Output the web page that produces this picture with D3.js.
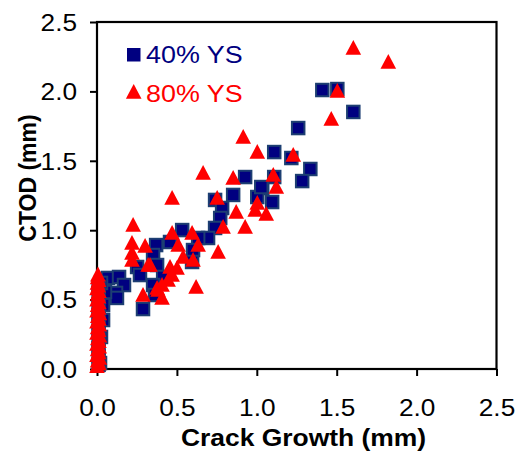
<!DOCTYPE html>
<html>
<head>
<meta charset="utf-8">
<script src="https://cdn.jsdelivr.net/npm/d3@7"></script>
<style>
  html, body { margin: 0; padding: 0; background: #fff; }
  svg { display: block; }
</style>
</head>
<body>
<svg id="chart" width="524" height="452"></svg>
<script>
// ---- Data ----
const xTicks = [0, 0.5, 1.0, 1.5, 2.0, 2.5];
const yTicks = [0, 0.5, 1.0, 1.5, 2.0, 2.5];
const seriesNames = ["40% YS", "80% YS"];

// 40% YS (squares): crack growth (mm)
const ys40X = [1.604, 1.41, 1.504, 1.259, 1.335, 1.284, 1.216, 1.109, 0.927, 1.109,
  1.034, 0.852, 1.003, 1.096, 0.739, 0.783, 0.771, 0.739, 0.695, 0.633,
  0.533, 0.37, 0.457, 0.601, 0.595, 0.351, 0.376, 0.414, 0.351, 0.363,
  0.251, 0.269, 0.069, 0.138, 0.169, 0.119, 0.125, 0.288, 0.038, 0.038,
  0.05, 0.025, 0.025, 0.019, 1.028,
  0.01, 0.01, 0.01, 0.01, 0.01, 0.01, 0.01, 0.01, 0.01, 0.01];
// 40% YS (squares): CTOD (mm)
const ys40Y = [1.852, 2.01, 2.017, 1.736, 1.441, 1.354, 1.52, 1.563, 1.383, 1.383,
  1.304, 1.254, 1.239, 1.203, 1.218, 1.16, 1.088, 1.016, 0.944, 0.944,
  1.001, 0.893, 0.915, 0.857, 0.771, 0.821, 0.749, 0.663, 0.605, 0.533,
  0.735, 0.677, 0.656, 0.663, 0.605, 0.548, 0.512, 0.432, 0.461, 0.353,
  0.555, 0.62, 0.231, 0.043, 1.311,
  0.03, 0.09, 0.15, 0.21, 0.27, 0.33, 0.39, 0.45, 0.52, 0.59];

// 80% YS (triangles): crack growth (mm)
const ys80X = [1.604, 1.823, 1.504, 1.466, 1.228, 0.915, 1.003, 0.852, 1.103, 1.122,
  1.003, 0.99, 1.059, 0.871, 0.927, 0.664, 0.47, 0.752, 0.789, 0.595,
  0.47, 0.508, 0.633, 0.758, 0.539, 0.601, 0.332, 0.457, 0.501, 0.47,
  0.445, 0.407, 0.382, 0.407, 0.62, 0.226, 0.219, 0.301, 0.219, 0.219,
  0.32, 0.288, 0.376,
  0.0, 0.012, 0.004, 0.015, 0.0, 0.01, 0.004, 0.014, 0.0, 0.012, 0.005, 0.015, 0.0, 0.01, 0.004,
  0.014, 0.0, 0.012, 0.005, 0.015, 0.0, 0.01, 0.004, 0.012, 0.0, 0.01, 0.004, 0.012, 0.0, 0.008,
  0.003, 0.01, 0.004, 0.006];
// 80% YS (triangles): CTOD (mm)
const ys80Y = [2.313, 2.212, 2.003, 1.801, 1.542, 1.671, 1.563, 1.376, 1.398, 1.311,
  1.196, 1.146, 1.117, 1.131, 1.023, 1.412, 1.232, 1.232, 1.023, 0.98,
  0.98, 0.893, 0.893, 0.843, 0.807, 0.785, 0.749, 0.735, 0.728, 0.677,
  0.641, 0.605, 0.569, 0.512, 0.591, 1.037, 0.908, 0.886, 0.836, 0.785,
  0.749, 0.533, 0.584,
  0.02, 0.04, 0.06, 0.08, 0.10, 0.12, 0.14, 0.16, 0.18, 0.20, 0.22, 0.24, 0.26, 0.28, 0.30,
  0.32, 0.34, 0.36, 0.38, 0.40, 0.42, 0.44, 0.46, 0.48, 0.50, 0.52, 0.54, 0.56, 0.58, 0.60,
  0.62, 0.64, 0.66, 0.68];

// ---- Layout ----
const svg = d3.select("#chart");
const plotL = 97, plotR = 496.5, plotT = 22, plotB = 369;
const x = d3.scaleLinear().domain([0, 2.5]).range([plotL, plotR]);
const y = d3.scaleLinear().domain([0, 2.5]).range([plotB, plotT]);
const FONT = "'Liberation Sans', Arial, Helvetica, sans-serif";
const NAVY = "#000080", NAVY_EDGE = "#1d3f72", RED = "#ff0000";

// X axis
const gx = svg.append("g").attr("transform", `translate(0,${plotB})`)
  .call(d3.axisBottom(x).tickValues(xTicks).tickFormat(d3.format(".1f")).tickSize(7).tickSizeOuter(0));
gx.select(".domain").remove();
gx.selectAll(".tick line").attr("stroke", "#000").attr("stroke-width", 2);
gx.selectAll(".tick text")
  .attr("y", 47.5).attr("dy", 0)
  .attr("transform", "scale(1.14,1)")
  .attr("fill", "#000")
  .style("font-family", FONT).style("font-size", "23px");

// Y axis
const gy = svg.append("g").attr("transform", `translate(${plotL},0)`)
  .call(d3.axisLeft(y).tickValues(yTicks).tickFormat(d3.format(".1f")).tickSize(7).tickSizeOuter(0));
gy.select(".domain").remove();
gy.selectAll(".tick line").attr("stroke", "#000").attr("stroke-width", 2);
gy.selectAll(".tick text")
  .attr("x", -20 / 1.14).attr("dy", "0.36em")
  .attr("transform", "scale(1.14,1)")
  .attr("fill", "#000")
  .style("font-family", FONT).style("font-size", "23px");

// Frame
svg.append("rect")
  .attr("x", plotL).attr("y", plotT)
  .attr("width", plotR - plotL).attr("height", plotB - plotT)
  .attr("fill", "none").attr("stroke", "#000").attr("stroke-width", 2.2);

// Axis titles
svg.append("text")
  .attr("transform", "translate(303.5,446) scale(1.15,1)")
  .attr("text-anchor", "middle")
  .style("font-family", FONT).style("font-size", "23px").style("font-weight", "bold")
  .text("Crack Growth (mm)");
svg.append("text")
  .attr("transform", "translate(36,178) scale(1.05,1) rotate(-90)")
  .attr("text-anchor", "middle")
  .style("font-family", FONT).style("font-size", "23px").style("font-weight", "bold")
  .text("CTOD (mm)");

// Marker shapes
const SQ = 12.5;
const triPath = (cx, cy) => `M${cx},${cy - 8}L${cx + 7.8},${cy + 6.8}L${cx - 7.8},${cy + 6.8}Z`;

// Series: 40% YS squares
const d40 = ys40X.map((v, i) => ({ x: v, y: ys40Y[i] }));
svg.append("g").selectAll("rect").data(d40).join("rect")
  .attr("x", d => x(d.x) - SQ / 2).attr("y", d => y(d.y) - SQ / 2)
  .attr("width", SQ).attr("height", SQ)
  .attr("fill", NAVY).attr("stroke", NAVY_EDGE).attr("stroke-width", 2);

// Series: 80% YS triangles
const d80 = ys80X.map((v, i) => ({ x: v, y: ys80Y[i] }));
svg.append("g").selectAll("path").data(d80).join("path")
  .attr("d", d => triPath(x(d.x), y(d.y)))
  .attr("fill", RED);

// Legend
const lg = svg.append("g");
lg.append("rect").attr("x", 127).attr("y", 48).attr("width", 13.5).attr("height", 13.5).attr("fill", NAVY);
lg.append("text").attr("transform", "translate(146,63.3) scale(1.12,1)")
  .attr("fill", NAVY).style("font-family", FONT).style("font-size", "24px")
  .text(seriesNames[0]);
lg.append("path").attr("d", triPath(133.7, 92)).attr("fill", RED);
lg.append("text").attr("transform", "translate(146,101.5) scale(1.12,1)")
  .attr("fill", RED).style("font-family", FONT).style("font-size", "24px")
  .text(seriesNames[1]);
</script>
</body>
</html>
